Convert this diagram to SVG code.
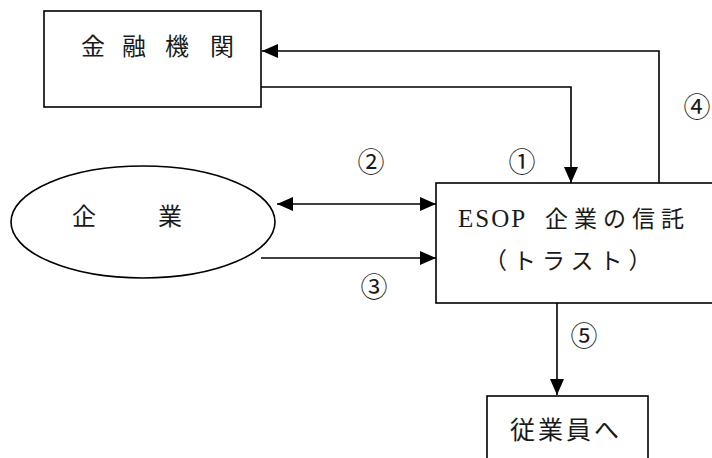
<svg xmlns="http://www.w3.org/2000/svg" width="712" height="458" viewBox="0 0 712 458">
<style>
  .box { fill: #ffffff; stroke: #000000; stroke-width: 1.6; }
  .conn { fill: none; stroke: #000000; stroke-width: 1.6; }
  .t { font-family: "Liberation Serif", "Noto Sans CJK JP", serif; fill: #1a1a1a; }
  .lat { font-family: "Liberation Serif", "DejaVu Serif", serif; }
  .num { font-family: "Noto Sans CJK JP", "DejaVu Sans", sans-serif; font-size: 27px; fill: #1a1a1a; text-anchor: middle; dominant-baseline: central; }
</style>
<defs>
  <marker id="ah" markerUnits="userSpaceOnUse" markerWidth="16" markerHeight="16" viewBox="0 0 16 16" refX="16" refY="8" orient="auto-start-reverse">
    <path d="M0,1 L16,8 L0,15 z" fill="#000000"/>
  </marker>
</defs>
<rect width="712" height="458" fill="#ffffff"/>

<g id="connectors">
  <path class="conn" d="M659,183 L659,51 L262,51" marker-end="url(#ah)"/>
  <path class="conn" d="M261,87 L571,87 L571,183" marker-end="url(#ah)"/>
  <path class="conn" d="M277,204 L436,204" marker-start="url(#ah)" marker-end="url(#ah)"/>
  <path class="conn" d="M261,258 L436,258" marker-end="url(#ah)"/>
  <path class="conn" d="M557,303 L557,395" marker-end="url(#ah)"/>
</g>

<g id="node-kinyu">
  <rect class="box" x="44" y="11" width="217" height="96"/>
  <text class="t" font-size="24" x="93 134 177 222" y="55" text-anchor="middle">金融機関</text>
</g>

<g id="node-kigyo">
  <ellipse class="box" cx="143" cy="222" rx="132" ry="56"/>
  <text class="t" font-size="24" x="84 170" y="225" text-anchor="middle">企業</text>
</g>

<g id="node-esop">
  <rect class="box" x="436" y="183" width="300" height="120"/>
  <text class="t" y="227"><tspan class="lat" x="458" font-size="25" letter-spacing="2">ESOP </tspan><tspan x="545 574 603 632 661" font-size="23">企業の信託</tspan></text>
  <text class="t" font-size="23" x="484" y="269" letter-spacing="6">（トラスト）</text>
</g>

<g id="node-jugyoin">
  <rect class="box" x="487" y="396" width="161" height="80"/>
  <text class="t" font-size="25" x="510" y="439" letter-spacing="3">従業員へ</text>
</g>

<g id="labels">
  <text class="num" x="522" y="160">①</text>
  <text class="num" x="371" y="160">②</text>
  <text class="num" x="374" y="285">③</text>
  <text class="num" x="697" y="105">④</text>
  <text class="num" x="584" y="334">⑤</text>
</g>
</svg>
